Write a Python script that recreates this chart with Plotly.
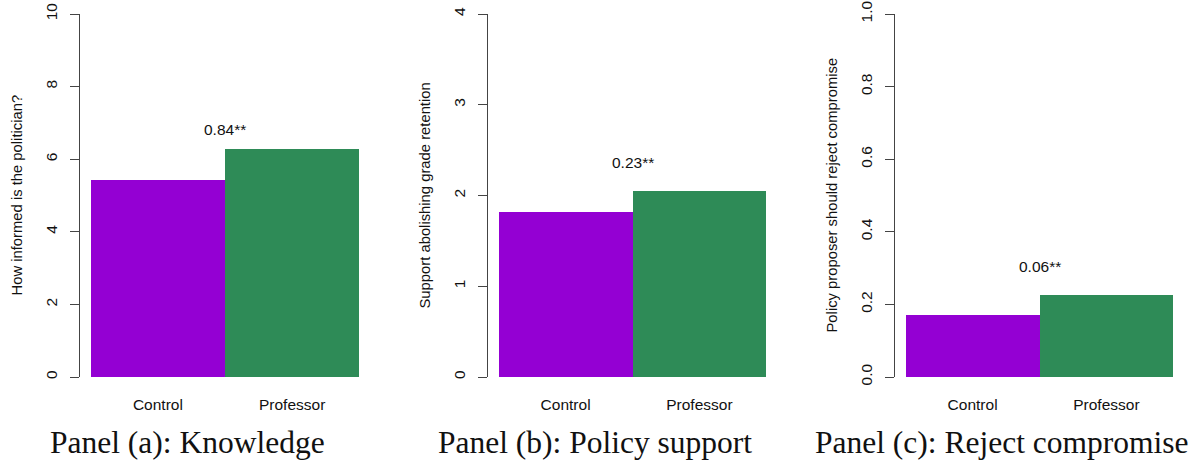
import plotly.graph_objects as go

# Group labels and mean outcomes per panel
categories = ["Control", "Professor"]
knowledge = [5.44, 6.28]
policy_support = [1.82, 2.05]
reject_compromise = [0.17, 0.226]

effect_labels = ["0.84**", "0.23**", "0.06**"]
panel_titles = ["Panel (a): Knowledge", "Panel (b): Policy support", "Panel (c): Reject compromise"]
y_titles = ["How informed is the politician?",
            "Support abolishing grade retention",
            "Policy proposer should reject compromise"]
y_max = [10, 4, 1.0]
y_ticks = [[0, 2, 4, 6, 8, 10], [0, 1, 2, 3, 4], [0.0, 0.2, 0.4, 0.6, 0.8, 1.0]]
y_tickformat = ["d", "d", ".1f"]

series = [knowledge, policy_support, reject_compromise]
bar_colors = ["#9400D3", "#2E8B57"]

W, H = 1197, 464
# pixel layout of each panel's plotting region
x_dom_px = [(80, 370), (488, 777), (895, 1184)]
y_top_px, y_bot_px = 14, 377
title_cx_px = [187, 595, 1002]
label_shift = [20, 28, 28]

sans = "Liberation Sans, Arial, sans-serif"
serif = "Liberation Serif, Times New Roman, serif"
axis_col = "#444444"

fig = go.Figure()
positions = [i + 0.5 for i in range(len(categories))]
pad = 0.04 * len(categories)

annotations = []
for k, vals in enumerate(series):
    sfx = "" if k == 0 else str(k + 1)
    fig.add_trace(go.Bar(
        x=positions, y=vals, width=1,
        marker=dict(color=bar_colors, line=dict(width=0)),
        xaxis="x" + sfx, yaxis="y" + sfx, showlegend=False,
        hoverinfo="skip",
    ))
    x0, x1 = x_dom_px[k]
    dom_x = [x0 / W, x1 / W]
    dom_y = [1 - y_bot_px / H, 1 - y_top_px / H]
    fig.layout["xaxis" + sfx] = dict(
        domain=dom_x, range=[-pad, len(categories) + pad], anchor="y" + sfx,
        tickvals=positions, ticktext=categories, showline=False, showgrid=False,
        zeroline=False, ticks="", ticklabelstandoff=16, automargin=False,
        tickfont=dict(family=sans, size=15.5, color="#111111"),
    )
    fig.layout["yaxis" + sfx] = dict(
        domain=dom_y, range=[0, y_max[k]], anchor="x" + sfx,
        tickvals=y_ticks[k], tickformat=y_tickformat[k], tickangle=-90,
        showline=True, linecolor=axis_col, linewidth=1,
        ticks="outside", ticklen=9, tickcolor=axis_col, tickwidth=1,
        showgrid=False, zeroline=False, ticklabelstandoff=7, automargin=False,
        tickfont=dict(family=sans, size=15.5, color="#111111"),
    )
    # difference label above the boundary between the bars
    annotations.append(dict(
        x=len(categories) / 2, y=vals[1], xref="x" + sfx, yref="y" + sfx,
        text=effect_labels[k], showarrow=False, yanchor="middle", yshift=label_shift[k],
        font=dict(family=sans, size=15.5, color="#111111"),
    ))
    # rotated y-axis title
    annotations.append(dict(
        x=(x0 - 64) / W, y=1 - ((y_top_px + y_bot_px) / 2) / H,
        xref="paper", yref="paper", text=y_titles[k], textangle=-90,
        showarrow=False, xanchor="center", yanchor="middle",
        font=dict(family=sans, size=14.8, color="#111111"),
    ))
    # panel caption
    annotations.append(dict(
        x=title_cx_px[k] / W, y=1 - 442 / H, xref="paper", yref="paper",
        text=panel_titles[k], showarrow=False, xanchor="center", yanchor="middle",
        font=dict(family=serif, size=31.5, color="#111111"),
    ))

fig.update_layout(
    width=W, height=H, margin=dict(l=0, r=0, t=0, b=0),
    paper_bgcolor="white", plot_bgcolor="white",
    bargap=0, annotations=annotations,
)

fig.write_html("out.html")
